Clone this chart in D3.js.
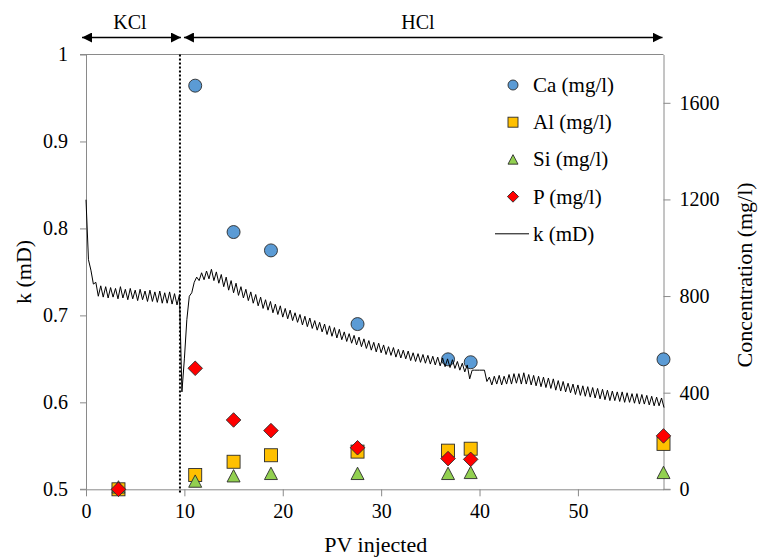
<!DOCTYPE html>
<html>
<head>
<meta charset="utf-8">
<script src="https://cdn.jsdelivr.net/npm/d3@7"></script>
</head>
<body style="margin:0">
<svg id="chart" width="759" height="559"></svg>
<script>
// Sampling times (PV injected) for the ion concentrations
const samplePV = [3.3, 11.1, 15.0, 18.8, 27.6, 36.8, 39.1, 58.7];
// Concentrations in mg/l at each sample (Ca has no first sample)
const caConc = [null, 1671, 1065, 989, 684, 538, 526, 538];
const alConc = [0, 59, 114, 141, 156, 160, 168, 188];
const siConc = [10, 34, 56, 66, 66, 66, 70, 70];
const pConc  = [0, 501, 287, 243, 172, 127, 124, 221];

// Permeability log, one reading every 0.25 PV from PV 0
const kStartPV = 0;
const kStepPV = 0.25;
const kValues = [
  0.833, 0.764, 0.752, 0.736, 0.738, 0.722, 0.734, 0.721, 0.733, 0.720,
  0.732, 0.721, 0.731, 0.719, 0.733, 0.720, 0.730, 0.718, 0.731, 0.719,
  0.729, 0.717, 0.730, 0.718, 0.728, 0.716, 0.729, 0.716, 0.727, 0.715,
  0.728, 0.714, 0.726, 0.714, 0.727, 0.713, 0.725, 0.712, 0.724, 0.612,
  0.650, 0.695, 0.722, 0.726, 0.738, 0.744, 0.740, 0.749, 0.741, 0.751,
  0.742, 0.753, 0.740, 0.750, 0.737, 0.747, 0.733, 0.744, 0.729, 0.740,
  0.726, 0.737, 0.723, 0.733, 0.720, 0.730, 0.717, 0.727, 0.714, 0.724,
  0.711, 0.721, 0.708, 0.718, 0.706, 0.716, 0.703, 0.713, 0.701, 0.711,
  0.698, 0.708, 0.696, 0.706, 0.694, 0.703, 0.692, 0.701, 0.689, 0.699,
  0.687, 0.697, 0.685, 0.694, 0.683, 0.692, 0.681, 0.690, 0.678, 0.688,
  0.676, 0.686, 0.674, 0.684, 0.672, 0.681, 0.670, 0.679, 0.668, 0.677,
  0.666, 0.675, 0.664, 0.673, 0.662, 0.671, 0.660, 0.669, 0.658, 0.668,
  0.657, 0.666, 0.655, 0.664, 0.654, 0.663, 0.652, 0.661, 0.651, 0.660,
  0.650, 0.659, 0.648, 0.657, 0.647, 0.656, 0.646, 0.655, 0.645, 0.654,
  0.644, 0.653, 0.643, 0.652, 0.642, 0.651, 0.641, 0.650, 0.640, 0.649,
  0.639, 0.647, 0.637, 0.645, 0.635, 0.643, 0.627, 0.637, 0.637, 0.637,
  0.637, 0.637, 0.637, 0.624, 0.629, 0.620, 0.630, 0.621, 0.631, 0.620,
  0.630, 0.621, 0.632, 0.621, 0.633, 0.622, 0.633, 0.621, 0.634, 0.621,
  0.632, 0.620, 0.631, 0.619, 0.630, 0.618, 0.629, 0.617, 0.628, 0.616,
  0.627, 0.614, 0.625, 0.613, 0.624, 0.612, 0.622, 0.611, 0.621, 0.609,
  0.620, 0.608, 0.619, 0.607, 0.618, 0.606, 0.617, 0.605, 0.616, 0.604,
  0.615, 0.603, 0.614, 0.602, 0.613, 0.602, 0.612, 0.601, 0.612, 0.600,
  0.611, 0.600, 0.610, 0.599, 0.610, 0.598, 0.609, 0.598, 0.608, 0.597,
  0.607, 0.596, 0.606, 0.596, 0.605, 0.594
];

// Axis ticks and labels
const xTicks = [0, 10, 20, 30, 40, 50];
const kTicks = [0.5, 0.6, 0.7, 0.8, 0.9, 1.0];
const kTickLabels = ["0.5", "0.6", "0.7", "0.8", "0.9", "1"];
const concTicks = [0, 400, 800, 1200, 1600];

// Fluid stages and the switch point
const switchPV = 9.55;
const stageLabels = ["KCl", "HCl"];
const legendLabels = ["Ca (mg/l)", "Al (mg/l)", "Si (mg/l)", "P (mg/l)", "k (mD)"];

const FONT = "'Liberation Serif', Tinos, 'Noto Serif', 'DejaVu Serif', serif";
const svg = d3.select("#chart");
const plotLeft = 86, plotRight = 663.5, plotTop = 54.5, plotBottom = 489.3;
const axisColor = "#8a8a8a";

const x = d3.scaleLinear().domain([0, 58.7]).range([plotLeft, plotRight]);
const yK = d3.scaleLinear().domain([0.5, 1]).range([plotBottom, plotTop]);
const yC = d3.scaleLinear().domain([0, 1800]).range([plotBottom, plotTop]);

function label(sel, size) {
  return sel.style("font-family", FONT).style("font-size", size + "px");
}

// Frame
svg.append("line").attr("x1", plotLeft - 6).attr("x2", plotRight).attr("y1", plotTop).attr("y2", plotTop)
  .attr("stroke", axisColor).attr("stroke-width", 1);

// Bottom axis
const xAxis = svg.append("g").attr("transform", `translate(0,${plotBottom})`)
  .call(d3.axisBottom(x).tickValues(xTicks).tickFormat(d3.format("d")).tickSize(7).tickSizeOuter(0).tickPadding(8));
// Left axis
const kAxis = svg.append("g").attr("transform", `translate(${plotLeft},0)`)
  .call(d3.axisLeft(yK).tickValues(kTicks).tickFormat((d, i) => kTickLabels[i]).tickSize(6).tickSizeOuter(0).tickPadding(12));
// Right axis
const cAxis = svg.append("g").attr("transform", `translate(${plotRight},0)`)
  .call(d3.axisRight(yC).tickValues(concTicks).tickFormat(d3.format("d")).tickSize(7).tickSizeOuter(0).tickPadding(9));

[xAxis, kAxis, cAxis].forEach(g => {
  g.attr("font-family", null).attr("font-size", null);
  g.select(".domain").attr("stroke", axisColor);
  g.selectAll(".tick line").attr("stroke", axisColor);
  label(g.selectAll(".tick text"), 20);
});
// extend the bottom axis line out to the side ticks
svg.append("line").attr("x1", plotLeft - 6).attr("x2", plotLeft).attr("y1", plotBottom).attr("y2", plotBottom)
  .attr("stroke", axisColor);
svg.append("line").attr("x1", plotRight).attr("x2", plotRight + 7).attr("y1", plotBottom).attr("y2", plotBottom)
  .attr("stroke", axisColor);

// Axis titles
label(svg.append("text").attr("x", (plotLeft + plotRight) / 2 + 1).attr("y", 552).attr("text-anchor", "middle"), 22)
  .text("PV injected");
label(svg.append("text").attr("transform", `translate(31,${(plotTop + plotBottom) / 2}) rotate(-90)`)
  .attr("text-anchor", "middle"), 22).text("k (mD)");
label(svg.append("text").attr("transform", `translate(752,${(plotTop + plotBottom) / 2 + 3}) rotate(-90)`)
  .attr("text-anchor", "middle"), 22).text("Concentration (mg/l)");

// Stage arrows
const defs = svg.append("defs");
defs.append("marker").attr("id", "head").attr("viewBox", "0 0 10 10")
  .attr("refX", 10).attr("refY", 5).attr("markerWidth", 10).attr("markerHeight", 10)
  .attr("markerUnits", "userSpaceOnUse").attr("orient", "auto-start-reverse")
  .append("path").attr("d", "M0,0 L10,5 L0,10 Z").attr("fill", "#000");

const arrowY = 37.5;
const stages = [
  { label: stageLabels[0], from: x(0) - 4, to: x(switchPV) + 1, cx: 130 },
  { label: stageLabels[1], from: x(switchPV) + 4, to: x(58.7) - 1, cx: 418 }
];
stages.forEach(s => {
  svg.append("line").attr("x1", s.from).attr("x2", s.to).attr("y1", arrowY).attr("y2", arrowY)
    .attr("stroke", "#000").attr("stroke-width", 1.3)
    .attr("marker-start", "url(#head)").attr("marker-end", "url(#head)");
  label(svg.append("text").attr("x", s.cx).attr("y", 29).attr("text-anchor", "middle"), 20).text(s.label);
});

// Marker shapes
const stroke = "#2b2b2b";
function drawMarker(g, type, cx, cy, s) {
  if (type === "circle") {
    g.append("circle").attr("cx", cx).attr("cy", cy).attr("r", s / 2)
      .attr("fill", "#5b9bd5").attr("stroke", stroke).attr("stroke-width", 0.9);
  } else if (type === "square") {
    g.append("rect").attr("x", cx - s / 2).attr("y", cy - s / 2).attr("width", s).attr("height", s)
      .attr("fill", "#ffc000").attr("stroke", stroke).attr("stroke-width", 0.9);
  } else if (type === "triangle") {
    const h = s * 0.95;
    g.append("path").attr("d", `M${cx},${cy - h / 2} L${cx + s / 2},${cy + h / 2} L${cx - s / 2},${cy + h / 2} Z`)
      .attr("fill", "#92d050").attr("stroke", stroke).attr("stroke-width", 0.9);
  } else {
    const r = s * 0.56;
    g.append("path").attr("d", `M${cx},${cy - r} L${cx + r},${cy} L${cx},${cy + r} L${cx - r},${cy} Z`)
      .attr("fill", "#ff0000").attr("stroke", stroke).attr("stroke-width", 0.9);
  }
}

const series = [
  { type: "circle", values: caConc },
  { type: "square", values: alConc },
  { type: "triangle", values: siConc },
  { type: "diamond", values: pConc }
];
const pts = svg.append("g");
series.forEach(s => {
  s.values.forEach((v, i) => {
    if (v === null) return;
    drawMarker(pts, s.type, x(samplePV[i]), yC(v), 13);
  });
});

// Switch from KCl to HCl
svg.append("line").attr("x1", x(switchPV)).attr("x2", x(switchPV)).attr("y1", plotTop).attr("y2", plotBottom + 4)
  .attr("stroke", "#000").attr("stroke-width", 2).attr("stroke-dasharray", "2 2");

// Permeability line
const kData = kValues.map((k, i) => ({ pv: kStartPV + i * kStepPV, k }));
svg.append("path").datum(kData)
  .attr("d", d3.line().x(d => x(d.pv)).y(d => yK(d.k)))
  .attr("fill", "none").attr("stroke", "#000").attr("stroke-width", 1);

// Legend
const legend = svg.append("g");
const legendX = 513, legendTextX = 533, legendY0 = 85, legendDy = 37.2;
const legendTypes = ["circle", "square", "triangle", "diamond"];
legendLabels.forEach((lab, i) => {
  const cy = legendY0 + i * legendDy;
  if (i < 4) drawMarker(legend, legendTypes[i], legendX, cy, 10);
  else legend.append("line").attr("x1", 495).attr("x2", 529).attr("y1", cy).attr("y2", cy)
    .attr("stroke", "#000").attr("stroke-width", 1);
  label(legend.append("text").attr("x", legendTextX).attr("y", cy + 7), 21).text(lab);
});
</script>
</body>
</html>
